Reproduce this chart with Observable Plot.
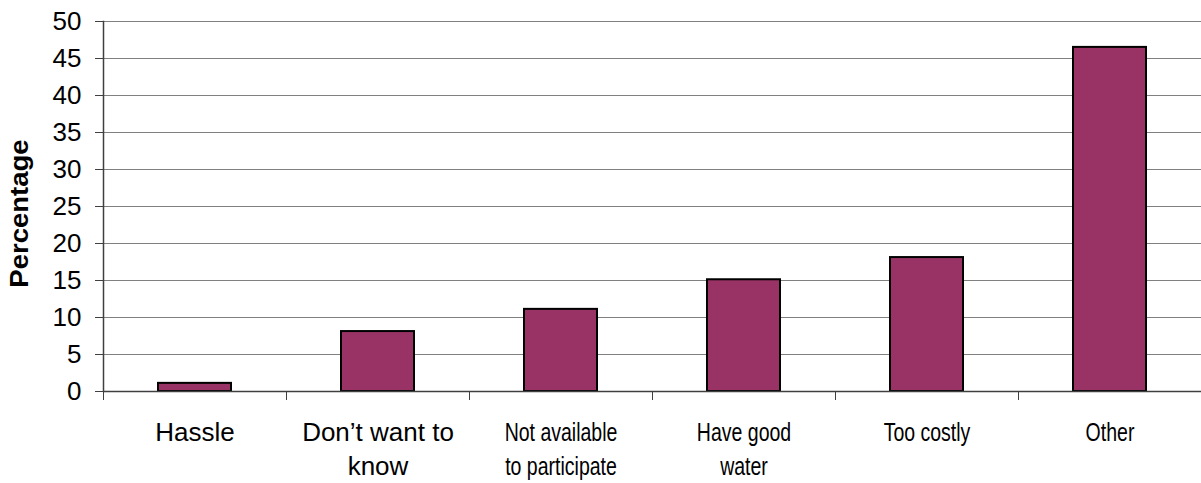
<!DOCTYPE html>
<html>
<head>
<meta charset="utf-8">
<script src="https://cdn.jsdelivr.net/npm/d3@7"></script>
<script src="https://cdn.jsdelivr.net/npm/@observablehq/plot@0.6"></script>
<style>
  html, body { margin: 0; padding: 0; background: #fff; }
  #chart { width: 1201px; height: 483px; }
</style>
</head>
<body>
<div id="chart"></div>
<script>
const categories = ["Hassle", "Don’t want to\nknow", "Not available\nto participate", "Have good\nwater", "Too costly", "Other"];
const percentages = [1.1, 8.1, 11.1, 15.1, 18.1, 46.5];
const yTicks = [0, 5, 10, 15, 20, 25, 30, 35, 40, 45, 50];
const yLabel = "Percentage";

const data = categories.map((c, i) => ({category: c, value: percentages[i]}));

const W = 1201, H = 483, mL = 103, mR = 0, mT = 21, mB = 92;
const step = (W - mL - mR) / categories.length;

const chart = Plot.plot({
  width: W,
  height: H,
  marginLeft: mL,
  marginRight: mR,
  marginTop: mT,
  marginBottom: mB,
  style: {fontFamily: "'Liberation Sans', Arial, sans-serif", fontSize: "26px", background: "#fff", color: "#000"},
  x: {domain: categories, paddingInner: 0.6, paddingOuter: 0.3, label: null},
  y: {domain: [0, 50], label: null},
  marks: [
    Plot.gridY(yTicks, {stroke: "#808080", strokeOpacity: 1, strokeWidth: 1.2}),
    Plot.barY(data, {x: "category", y: "value", fill: "#993366", stroke: "#000", strokeWidth: 2}),
    Plot.ruleY([0], {stroke: "#404040", strokeWidth: 1.5}),
    Plot.frame({anchor: "left", stroke: "#404040", strokeWidth: 1.5}),
    Plot.axisY(yTicks, {tickSize: 8, tickPadding: 14, stroke: "#404040", fontSize: 26, label: null}),
    Plot.axisY({label: yLabel, labelArrow: "none", labelAnchor: "center", labelOffset: 93, tickSize: 0, text: null, fontSize: 25, fontWeight: "bold"}),
    Plot.axisX({tickSize: 9, text: null, dx: -step / 2, stroke: "#404040", label: null}),
    Plot.axisX({tickSize: 0, tickPadding: 26, fontSize: 26, lineHeight: 1.29, label: null})
  ]
});

document.getElementById("chart").appendChild(chart);

// condense the wider category labels horizontally, as in the reference
const flat = categories.map(c => c.replace("\n", ""));
chart.querySelectorAll('g[aria-label="x-axis tick label"] text').forEach(t => {
  const i = flat.indexOf(t.textContent);
  if (i < 0) return;
  t.setAttribute("font-size", "26");
  if (i >= 2) {
    const parts = t.querySelectorAll("tspan");
    const targets = parts.length ? Array.from(parts) : [t];
    targets.forEach(el => {
      const len = el.getComputedTextLength();
      el.setAttribute("textLength", (len * 0.75).toFixed(1));
      el.setAttribute("lengthAdjust", "spacingAndGlyphs");
    });
  }
});
chart.querySelectorAll('g[aria-label="y-axis tick label"] text').forEach(t => {
  t.setAttribute("font-size", "26");
});
chart.querySelectorAll('g[aria-label="y-axis label"] text').forEach(t => {
  t.setAttribute("font-weight", "bold");
  t.setAttribute("font-size", "25");
  const len = t.getComputedTextLength();
  t.setAttribute("textLength", (len * 1.1).toFixed(1));
  t.setAttribute("lengthAdjust", "spacingAndGlyphs");
  t.setAttribute("transform", (t.getAttribute("transform") || "") + " translate(-7,0)");
});
</script>
</body>
</html>
